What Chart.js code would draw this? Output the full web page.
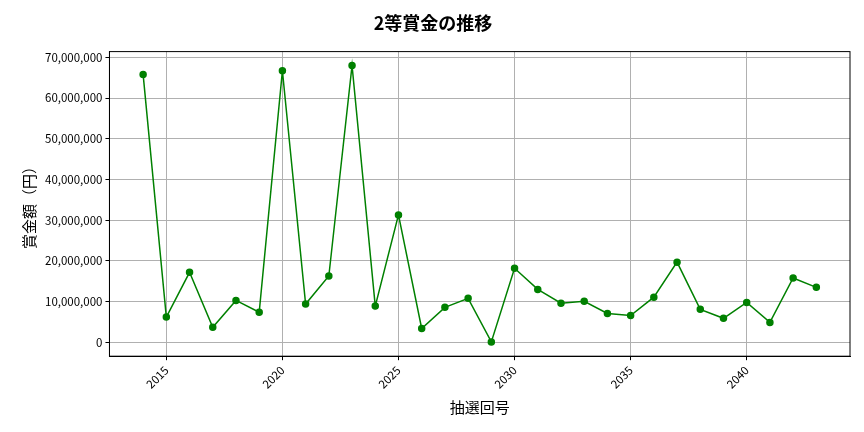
<!DOCTYPE html>
<html><head><meta charset="utf-8">
<script src="https://cdn.jsdelivr.net/npm/chart.js@4"></script>
<style>html,body{margin:0;padding:0;background:#fff}#w{width:864px;height:432px}</style>
</head><body><div id="w"><canvas id="c"></canvas></div>
<script>
const draws = [2014,2015,2016,2017,2018,2019,2020,2021,2022,2023,2024,2025,2026,2027,2028,2029,2030,2031,2032,2033,2034,2035,2036,2037,2038,2039,2040,2041,2042,2043];
const prizes = [65800000,6200000,17200000,3700000,10300000,7400000,66700000,9400000,16300000,68000000,8900000,31300000,3400000,8600000,10800000,100000,18200000,13000000,9600000,10100000,7100000,6600000,11100000,19700000,8100000,5900000,9800000,4900000,15800000,13500000];
const xTicks = [2015,2020,2025,2030,2035,2040];
const yTicks = [0,10000000,20000000,30000000,40000000,50000000,60000000,70000000];
const F = "'Noto Sans CJK JP','Noto Sans',sans-serif";
new Chart(document.getElementById('c'), {
  type: 'line',
  data: { datasets: [{ data: draws.map((d,i)=>({x:d,y:prizes[i]})), borderColor:'#008000', backgroundColor:'#008000', borderWidth:1.5, pointRadius:3, pointHoverRadius:3, tension:0 }] },
  options: {
    responsive:true, maintainAspectRatio:false, animation:false,
    layout:{padding:{left:16,right:14,top:10,bottom:12}},
    plugins:{ legend:{display:false}, tooltip:{enabled:false},
      title:{display:true,text:'2等賞金の推移',font:{family:F,size:18,weight:'bold'},color:'#000',padding:{top:2,bottom:18}} },
    scales:{
      x:{ type:'linear', min:2012.55, max:2044.45,
        afterBuildTicks:a=>{a.ticks=xTicks.map(v=>({value:v}));},
        ticks:{font:{family:F,size:11.5},color:'#000',maxRotation:45,minRotation:45,callback:v=>String(v)},
        grid:{color:'#b0b0b0',tickColor:'#000',tickLength:4},
        border:{color:'#000'},
        title:{display:true,text:'抽選回号',font:{family:F,size:15},color:'#000'} },
      y:{ min:-3400000, max:71400000,
        afterBuildTicks:a=>{a.ticks=yTicks.map(v=>({value:v}));},
        ticks:{font:{family:F,size:11.5},color:'#000',callback:v=>v.toLocaleString('en-US')},
        grid:{color:'#b0b0b0',tickColor:'#000',tickLength:4},
        border:{color:'#000'},
        title:{display:true,text:'賞金額（円）',font:{family:F,size:15},color:'#000'} }
    }
  },
  plugins:[{id:'frame',afterDraw(c){const a=c.chartArea,x=c.ctx;x.save();x.strokeStyle='#000';x.lineWidth=1;x.strokeRect(a.left,a.top,a.right-a.left,a.bottom-a.top);x.restore();}}]
});
</script></body></html>
